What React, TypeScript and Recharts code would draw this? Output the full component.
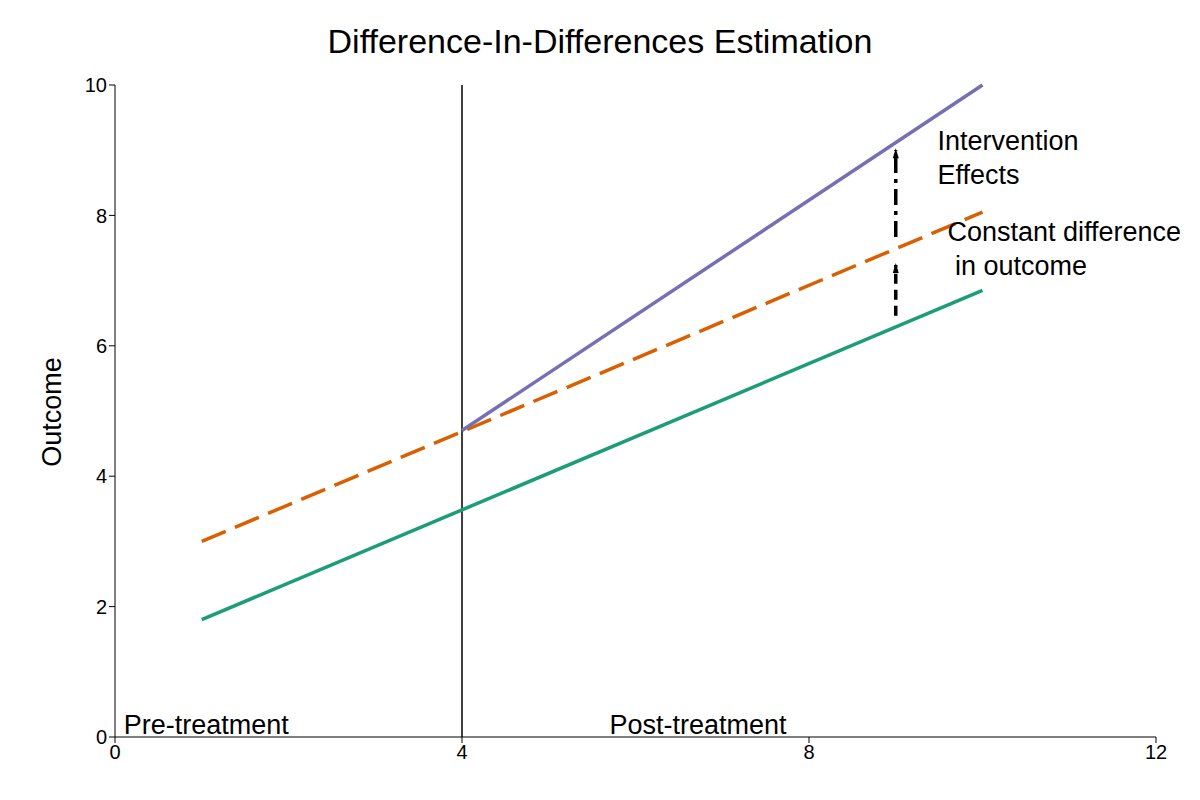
import { ComposedChart, Line, XAxis, YAxis, ReferenceLine, ReferenceDot } from 'recharts';

const control = [{ x: 1, y: 1.8 }, { x: 10, y: 6.85 }];
const counterfactual = [{ x: 1, y: 3.0 }, { x: 10, y: 8.05 }];
const treated = [{ x: 4, y: 4.7 }, { x: 10, y: 10 }];
const effectArrow = [{ x: 9, y: 7.67 }, { x: 9, y: 9.0 }];
const constArrow = [{ x: 9, y: 6.46 }, { x: 9, y: 7.24 }];
const xTicks = [0, 4, 8, 12];
const yTicks = [0, 2, 4, 6, 8, 10];

const font = 'Liberation Sans, Arial, sans-serif';

const Head = (props: any) => {
  const { cx, cy, index } = props;
  if (index !== 1) return null;
  return <path d={`M${cx - 3},${cy + 8} L${cx},${cy - 2} L${cx + 3},${cy + 8} Z`} fill="#000" />;
};

const TextLabel = (lines: string[], dx: number) => (props: any) => {
  const { viewBox } = props;
  return (
    <text x={viewBox.x + dx} y={viewBox.y} fontSize={27} fill="#000" fontFamily={font}>
      {lines.map((l, i) => (
        <tspan key={i} x={viewBox.x + dx} dy={i === 0 ? 0 : 34}>{l}</tspan>
      ))}
    </text>
  );
};

export default function App() {
  return (
    <div style={{ position: 'absolute', left: 0, top: 0, width: 1200, height: 800, background: '#fff', fontFamily: font }}>
      <div style={{ position: 'absolute', top: 22, width: 1200, textAlign: 'center', fontSize: 34, left: 0 }}>
        Difference-In-Differences Estimation
      </div>
      <div style={{ position: 'absolute', left: 52, top: 412, transform: 'translate(-50%,-50%) rotate(-90deg)', fontSize: 27, whiteSpace: 'nowrap' }}>
        Outcome
      </div>
      <ComposedChart width={1200} height={800} margin={{ top: 85, right: 44, bottom: 0, left: 0 }}>
        <XAxis type="number" dataKey="x" domain={[0, 12]} ticks={xTicks} height={63} stroke="#000"
          tick={{ fill: '#000', fontSize: 20, fontFamily: font }} tickSize={6} allowDataOverflow />
        <YAxis type="number" dataKey="y" domain={[0, 10]} ticks={yTicks} width={115} stroke="#000"
          tick={{ fill: '#000', fontSize: 20, fontFamily: font }} tickSize={6} />
        <ReferenceLine segment={[{ x: 4, y: 0 }, { x: 4, y: 10 }]} stroke="#000" strokeWidth={1.5} />
        <Line data={control} dataKey="y" stroke="#1b9e77" strokeWidth={3.5} dot={false} isAnimationActive={false} />
        <Line data={counterfactual} dataKey="y" stroke="#d95f02" strokeWidth={3.5} strokeDasharray="26 10" dot={false} isAnimationActive={false} />
        <Line data={treated} dataKey="y" stroke="#7570b3" strokeWidth={3.5} dot={false} isAnimationActive={false} />
        <Line data={effectArrow} dataKey="y" stroke="#000" strokeWidth={3.5} strokeDasharray="16 6 4 6" dot={<Head />} isAnimationActive={false} />
        <Line data={constArrow} dataKey="y" stroke="#000" strokeWidth={3.5} strokeDasharray="10 6" dot={<Head />} isAnimationActive={false} />
        <ReferenceDot x={9.1} y={9.0} r={0} label={{ content: TextLabel(['Intervention', 'Effects'], 33) as any }} />
        <ReferenceDot x={9.1} y={7.6} r={0} label={{ content: TextLabel(['Constant difference', ' in outcome'], 43) as any }} />
        <ReferenceDot x={0.1} y={0.05} r={0} label={{ content: TextLabel(['Pre-treatment'], 0) as any }} />
        <ReferenceDot x={5.7} y={0.05} r={0} label={{ content: TextLabel(['Post-treatment'], 0) as any }} />
      </ComposedChart>
    </div>
  );
}
